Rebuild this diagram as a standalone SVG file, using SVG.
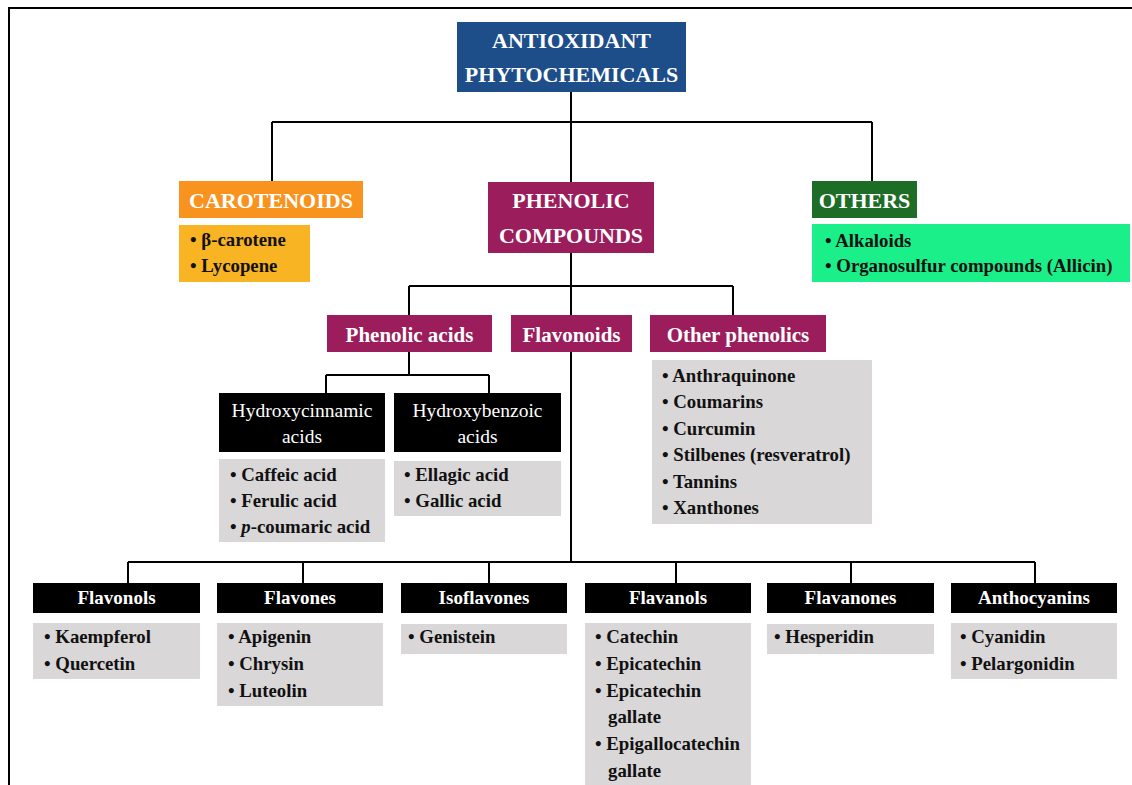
<svg xmlns="http://www.w3.org/2000/svg" width="1132" height="785" viewBox="0 0 1132 785">
<style>
text{font-family:"Liberation Serif","DejaVu Serif",serif;}
.hd{fill:#fff;font-weight:bold;text-anchor:middle;font-size:22px;}
.sub{fill:#fff;font-weight:bold;text-anchor:middle;font-size:21px;}
.blk{fill:#fff;text-anchor:middle;font-size:19.5px;}
.blkb{fill:#fff;font-weight:bold;text-anchor:middle;font-size:19px;}
.it{fill:#111;font-weight:bold;font-size:18.8px;}
.blue{fill:#1d4e89}.orange{fill:#f7931e}.yellow{fill:#f8b422}.mag{fill:#9b1d5b}.dgreen{fill:#1e6d26}.lgreen{fill:#1bef8a}.gray{fill:#d9d7d8}.black{fill:#000}
.ln{fill:none;stroke:#000;stroke-width:2}
</style>
<rect x="0" y="0" width="1132" height="785" fill="#fff"/>
<path class="ln" d="M9 785 V8 H1132" stroke-width="2.5"/>
<g id="connectors">
<path class="ln" d="M571 92 V122 M272 122 H872 M272 122 V181 M571 122 V182 M872 122 V181"/>
<path class="ln" d="M571 253 V286 M409 286 H733 M409 286 V315 M571 286 V315 M733 286 V315"/>
<path class="ln" d="M409 352 V375 M326 375 H489 M326 375 V393 M489 375 V393"/>
<path class="ln" d="M571 352 V562 M128 562 H1035 M128 562 V583 M303 562 V583 M489 562 V583 M676 562 V583 M851 562 V583 M1035 562 V583"/>
</g>
<g id="antioxidant">
<rect class="blue" x="457" y="22" width="229" height="70"/>
<text class="hd" x="571.5" y="48">ANTIOXIDANT</text>
<text class="hd" x="571.5" y="82">PHYTOCHEMICALS</text>
</g>
<g id="carotenoids">
<rect class="orange" x="179" y="181" width="184" height="37"/>
<text class="hd" x="271" y="208">CAROTENOIDS</text>
<rect class="yellow" x="179" y="225" width="131" height="57"/>
<text class="it" x="190" y="246">• β-carotene</text>
<text class="it" x="190" y="272">• Lycopene</text>
</g>
<g id="phenolic">
<rect class="mag" x="488" y="182" width="166" height="71"/>
<text class="hd" x="571" y="208">PHENOLIC</text>
<text class="hd" x="571" y="243">COMPOUNDS</text>
</g>
<g id="others">
<rect class="dgreen" x="812" y="181" width="105" height="37"/>
<text class="hd" x="864.5" y="208">OTHERS</text>
<rect class="lgreen" x="812" y="224" width="318" height="58"/>
<text class="it" x="825" y="247">• Alkaloids</text>
<text class="it" x="825" y="272">• Organosulfur compounds (Allicin)</text>
</g>
<g id="phenolic-acids">
<rect class="mag" x="327" y="315" width="165" height="37"/>
<text class="sub" x="409.5" y="342">Phenolic acids</text>
</g>
<g id="flavonoids">
<rect class="mag" x="511" y="315" width="121" height="37"/>
<text class="sub" x="571.5" y="342">Flavonoids</text>
</g>
<g id="other-phenolics">
<rect class="mag" x="650" y="315" width="176" height="37"/>
<text class="sub" x="738" y="342">Other phenolics</text>
<rect class="gray" x="652" y="360" width="220" height="164"/>
<text class="it" x="662" y="382">• Anthraquinone</text>
<text class="it" x="662" y="408">• Coumarins</text>
<text class="it" x="662" y="435">• Curcumin</text>
<text class="it" x="662" y="461">• Stilbenes (resveratrol)</text>
<text class="it" x="662" y="488">• Tannins</text>
<text class="it" x="662" y="514">• Xanthones</text>
</g>
<g id="hydroxycinnamic">
<rect class="black" x="219" y="393" width="166" height="59"/>
<text class="blk" x="302" y="417">Hydroxycinnamic</text>
<text class="blk" x="302" y="443">acids</text>
<rect class="gray" x="219" y="459" width="166" height="83"/>
<text class="it" x="230" y="481">• Caffeic acid</text>
<text class="it" x="230" y="507">• Ferulic acid</text>
<text class="it" x="230" y="533">• <tspan font-style="italic">p</tspan>-coumaric acid</text>
</g>
<g id="hydroxybenzoic">
<rect class="black" x="394" y="393" width="167" height="59"/>
<text class="blk" x="477.5" y="417">Hydroxybenzoic</text>
<text class="blk" x="477.5" y="443">acids</text>
<rect class="gray" x="394" y="461" width="167" height="55"/>
<text class="it" x="404" y="481">• Ellagic acid</text>
<text class="it" x="404" y="507">• Gallic acid</text>
</g>
<g id="flavonols">
<rect class="black" x="33" y="583" width="167" height="30"/>
<text class="blkb" x="116.5" y="604">Flavonols</text>
<rect class="gray" x="33" y="623" width="167" height="56"/>
<text class="it" x="44" y="643">• Kaempferol</text>
<text class="it" x="44" y="670">• Quercetin</text>
</g>
<g id="flavones">
<rect class="black" x="217" y="583" width="166" height="30"/>
<text class="blkb" x="300" y="604">Flavones</text>
<rect class="gray" x="217" y="623" width="166" height="83"/>
<text class="it" x="228" y="643">• Apigenin</text>
<text class="it" x="228" y="670">• Chrysin</text>
<text class="it" x="228" y="697">• Luteolin</text>
</g>
<g id="isoflavones">
<rect class="black" x="401" y="583" width="166" height="30"/>
<text class="blkb" x="484" y="604">Isoflavones</text>
<rect class="gray" x="401" y="624" width="166" height="30"/>
<text class="it" x="408" y="643">• Genistein</text>
</g>
<g id="flavanols">
<rect class="black" x="585" y="583" width="166" height="30"/>
<text class="blkb" x="668" y="604">Flavanols</text>
<rect class="gray" x="585" y="623" width="166" height="170"/>
<text class="it" x="595" y="643">• Catechin</text>
<text class="it" x="595" y="670">• Epicatechin</text>
<text class="it" x="595" y="697">• Epicatechin</text>
<text class="it" x="608" y="723">gallate</text>
<text class="it" x="595" y="750">• Epigallocatechin</text>
<text class="it" x="608" y="777">gallate</text>
</g>
<g id="flavanones">
<rect class="black" x="767" y="583" width="167" height="30"/>
<text class="blkb" x="850.5" y="604">Flavanones</text>
<rect class="gray" x="767" y="624" width="167" height="30"/>
<text class="it" x="774" y="643">• Hesperidin</text>
</g>
<g id="anthocyanins">
<rect class="black" x="951" y="583" width="166" height="30"/>
<text class="blkb" x="1034" y="604">Anthocyanins</text>
<rect class="gray" x="951" y="623" width="166" height="56"/>
<text class="it" x="960" y="643">• Cyanidin</text>
<text class="it" x="960" y="670">• Pelargonidin</text>
</g>
</svg>
